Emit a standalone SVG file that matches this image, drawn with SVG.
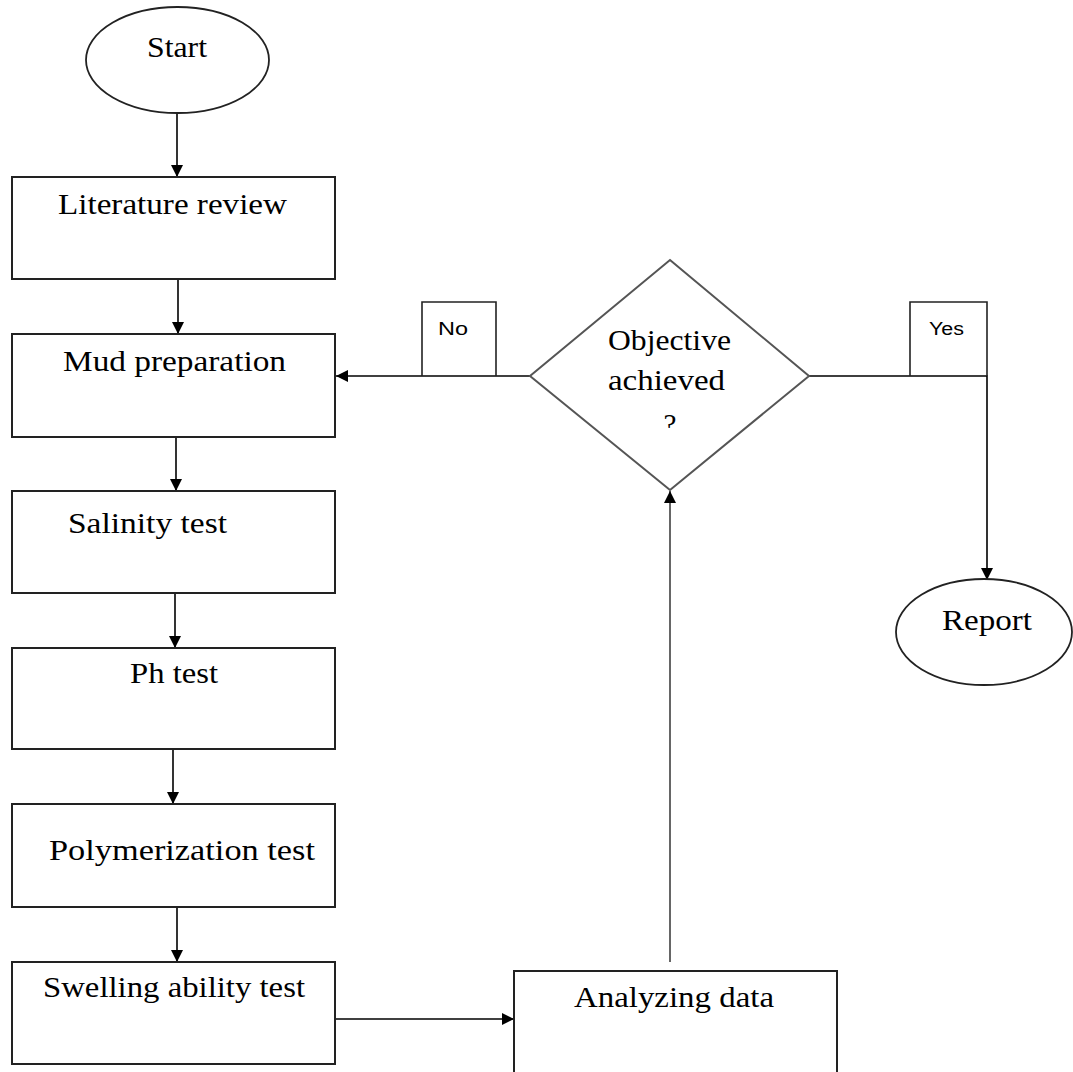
<svg xmlns="http://www.w3.org/2000/svg" width="1073" height="1072" viewBox="0 0 1073 1072">
<style>
.box{fill:#fff;stroke:#222;stroke-width:2}
.oval{fill:#fff;stroke:#222;stroke-width:1.8}
.dia{fill:#fff;stroke:#555;stroke-width:2}
.t{font-family:"Liberation Serif","Times New Roman",serif;font-size:29px;fill:#000}
.s{font-family:"Liberation Sans",Arial,sans-serif;font-size:18px;fill:#000}
.ln{fill:none;stroke:#000;stroke-width:1.6}
.gl{fill:none;stroke:#666;stroke-width:2}
.lb{fill:none;stroke:#222;stroke-width:1.6}
</style>
<defs>
<marker id="ah" markerUnits="userSpaceOnUse" markerWidth="12" markerHeight="12" refX="12" refY="6" orient="auto">
<path d="M0,0 L12,6 L0,12 Z" fill="#000"/>
</marker>
<clipPath id="qclip"><rect x="640" y="400" width="60" height="28"/></clipPath>
</defs>
<rect width="1073" height="1072" fill="#fff"/>

<g id="connectors">
<line class="ln" x1="177" y1="113" x2="177" y2="177" marker-end="url(#ah)"/>
<line class="ln" x1="178" y1="279" x2="178" y2="334" marker-end="url(#ah)"/>
<line class="ln" x1="176" y1="437" x2="176" y2="491" marker-end="url(#ah)"/>
<line class="ln" x1="175" y1="593" x2="175" y2="648" marker-end="url(#ah)"/>
<line class="ln" x1="173" y1="749" x2="173" y2="804" marker-end="url(#ah)"/>
<line class="ln" x1="177" y1="907" x2="177" y2="962" marker-end="url(#ah)"/>
<line class="ln" x1="335" y1="1019" x2="514" y2="1019" marker-end="url(#ah)"/>
<line class="gl" x1="670" y1="962" x2="670" y2="491" marker-end="url(#ah)"/>
<line class="ln" x1="530" y1="376" x2="336" y2="376" marker-end="url(#ah)"/>
<polyline class="ln" points="809,376 987,376 987,580" marker-end="url(#ah)"/>
</g>

<g id="start">
<ellipse class="oval" cx="177.5" cy="60" rx="91.5" ry="53"/>
<text class="t" x="147" y="57" textLength="60" lengthAdjust="spacingAndGlyphs">Start</text>
</g>

<g id="literature-review">
<rect class="box" x="12" y="177" width="323" height="102"/>
<text class="t" x="58" y="214" textLength="229" lengthAdjust="spacingAndGlyphs">Literature review</text>
</g>

<g id="mud-preparation">
<rect class="box" x="12" y="334" width="323" height="103"/>
<text class="t" x="63" y="371" textLength="223" lengthAdjust="spacingAndGlyphs">Mud preparation</text>
</g>

<g id="salinity-test">
<rect class="box" x="12" y="491" width="323" height="102"/>
<text class="t" x="68" y="533" textLength="159" lengthAdjust="spacingAndGlyphs">Salinity test</text>
</g>

<g id="ph-test">
<rect class="box" x="12" y="648" width="323" height="101"/>
<text class="t" x="130" y="683" textLength="88" lengthAdjust="spacingAndGlyphs">Ph test</text>
</g>

<g id="polymerization-test">
<rect class="box" x="12" y="804" width="323" height="103"/>
<text class="t" x="49" y="860" textLength="266" lengthAdjust="spacingAndGlyphs">Polymerization test</text>
</g>

<g id="swelling-ability-test">
<rect class="box" x="12" y="962" width="323" height="102"/>
<text class="t" x="43" y="997" textLength="262" lengthAdjust="spacingAndGlyphs">Swelling ability test</text>
</g>

<g id="analyzing-data">
<rect class="box" x="514" y="971" width="323" height="110"/>
<text class="t" x="574" y="1007" textLength="200" lengthAdjust="spacingAndGlyphs">Analyzing data</text>
</g>

<g id="objective-achieved">
<polygon class="dia" points="670,260 809,376 670,490 530,376"/>
<text class="t" x="608" y="350" textLength="123" lengthAdjust="spacingAndGlyphs">Objective</text>
<text class="t" x="608" y="390" textLength="117" lengthAdjust="spacingAndGlyphs">achieved</text>
<text class="t" x="670" y="434" text-anchor="middle" clip-path="url(#qclip)">?</text>
</g>

<g id="label-no">
<polyline class="lb" points="422,376 422,302 496,302 496,376"/>
<text class="s" x="438" y="335" textLength="30" lengthAdjust="spacingAndGlyphs">No</text>
</g>

<g id="label-yes">
<polyline class="lb" points="910,376 910,302 987,302 987,376"/>
<text class="s" x="929" y="335" textLength="35" lengthAdjust="spacingAndGlyphs">Yes</text>
</g>

<g id="report">
<ellipse class="oval" cx="984" cy="632" rx="88" ry="53"/>
<text class="t" x="942" y="630" textLength="90" lengthAdjust="spacingAndGlyphs">Report</text>
</g>
</svg>
